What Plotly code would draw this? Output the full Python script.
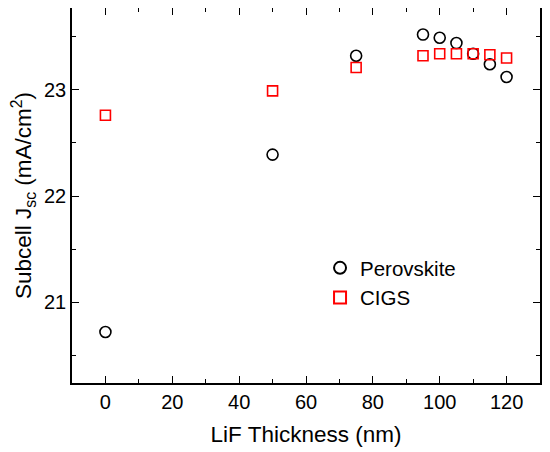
import plotly.graph_objects as go

# épaisseur LiF (nm)
epaisseur = [0, 50, 75, 95, 100, 105, 110, 115, 120]
# Jsc des sous-cellules (mA/cm2)
jsc_perovskite = [20.72, 22.39, 23.32, 23.52, 23.49, 23.44, 23.34, 23.24, 23.12]
jsc_cigs = [22.76, 22.99, 23.21, 23.32, 23.34, 23.34, 23.34, 23.33, 23.30]

police = 'Liberation Sans, Arial, sans-serif'

fig = go.Figure()
fig.add_trace(go.Scatter(x=epaisseur, y=jsc_perovskite, mode='markers', name='Perovskite',
                         marker=dict(symbol='circle-open', size=11, color='black', line=dict(width=1.6))))
fig.add_trace(go.Scatter(x=epaisseur, y=jsc_cigs, mode='markers', name='CIGS',
                         marker=dict(symbol='square-open', size=10, color='red', line=dict(width=1.6))))

axe = dict(showline=True, linecolor='black', linewidth=1.6, mirror='ticks', ticks='inside',
           ticklen=7, tickwidth=1.3, tickcolor='black', showgrid=False, zeroline=False,
           automargin=False, tickfont=dict(family=police, size=20, color='black'))

# la page html ajoute ~8 px de marge au corps : marges compensées
fig.update_layout(
    width=550, height=452,
    margin=dict(l=64, r=18, t=0, b=77),
    plot_bgcolor='white', paper_bgcolor='white',
    font=dict(family=police, color='black'),
    xaxis=dict(axe, range=[-10, 130], dtick=20, tick0=0,
               minor=dict(ticks='inside', dtick=10, ticklen=4, tickwidth=1.3, tickcolor='black'),
               title=dict(text='LiF Thickness (nm)', font=dict(size=22.5), standoff=14)),
    yaxis=dict(axe, range=[20.24, 23.77], dtick=1, tick0=21,
               minor=dict(ticks='inside', dtick=0.5, ticklen=4, tickwidth=1.3, tickcolor='black'),
               title=dict(text='Subcell J<sub>sc</sub> (mA/cm<sup>2</sup>)', font=dict(size=22.5), standoff=10)),
    legend=dict(x=0.53, y=0.36, xanchor='left', yanchor='top', bgcolor='rgba(0,0,0,0)',
                font=dict(size=20.5), itemsizing='constant', tracegroupgap=0),
    showlegend=True,
)

fig.write_html('out.html')
print('out.html généré avec succès !')
